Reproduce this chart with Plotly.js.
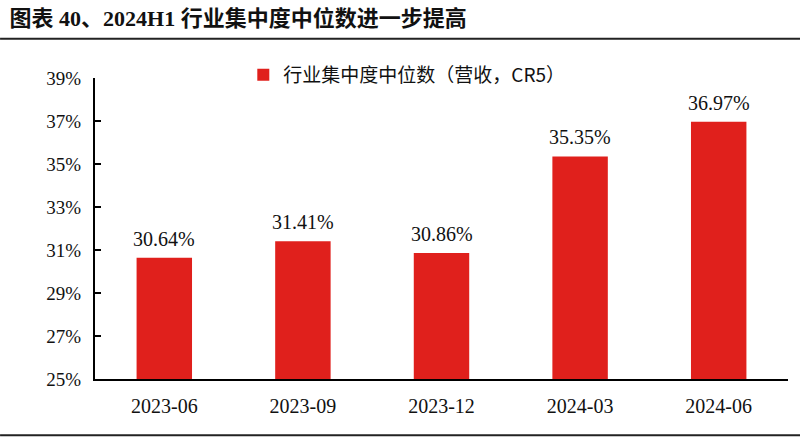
<!DOCTYPE html>
<html>
<head>
<meta charset="utf-8">
<script src="https://cdn.plot.ly/plotly-3.0.1.min.js"></script>
<style>
  body { margin: 0; background: #fff; }
  #chart { width: 800px; height: 440px; }
</style>
</head>
<body>
<div id="chart"></div>
<script>
// Data
var periods = ['2023-06', '2023-09', '2023-12', '2024-03', '2024-06'];
var medianCR5 = [30.64, 31.41, 30.86, 35.35, 36.97];
var yTicks = [25, 27, 29, 31, 33, 35, 37, 39];
var seriesName = '行业集中度中位数（营收，CR5）';
var chartTitle = '图表 40、2024H1 行业集中度中位数进一步提高';

var latinFont = 'Liberation Serif, Times New Roman, Noto Sans CJK SC, serif';

var bars = {
  x: periods,
  y: medianCR5,
  type: 'bar',
  name: seriesName,
  marker: { color: '#E0201C' },
  hoverinfo: 'skip'
};

// value labels sitting a little above each bar
var valueLabels = periods.map(function (p, i) {
  return {
    x: p, y: medianCR5[i], xref: 'x', yref: 'y',
    text: medianCR5[i].toFixed(2) + '%',
    showarrow: false,
    yanchor: 'bottom',
    yshift: 6,
    font: { family: latinFont, size: 20, color: '#111' }
  };
});

var layout = {
  width: 800,
  height: 440,
  margin: { l: 95, r: 12, t: 78, b: 61 },
  paper_bgcolor: '#fff',
  plot_bgcolor: '#fff',
  font: { family: latinFont },
  showlegend: true,
  bargap: 0.6,
  title: {
    text: '<b>' + chartTitle + '</b>',
    font: { family: latinFont, size: 22, color: '#111' },
    x: 0.012, xanchor: 'left', xref: 'container',
    y: 0.958, yanchor: 'middle', yref: 'container'
  },
  legend: {
    orientation: 'h',
    x: 0.214, xanchor: 'left',
    y: 1.01, yanchor: 'middle',
    font: { family: 'Noto Sans CJK SC, sans-serif', size: 19, color: '#111' },
    itemwidth: 30
  },
  xaxis: {
    type: 'category',
    showline: true,
    linecolor: '#000',
    linewidth: 2,
    ticks: '',
    ticklabelstandoff: 8,
    tickfont: { family: latinFont, size: 20, color: '#111' },
    showgrid: false,
    zeroline: false,
    fixedrange: true
  },
  yaxis: {
    range: [25, 39],
    tickvals: yTicks,
    ticktext: yTicks.map(function (v) { return v + '%'; }),
    showline: true,
    linecolor: '#000',
    linewidth: 2,
    ticks: 'inside',
    ticklen: 6,
    tickwidth: 2,
    tickcolor: '#000',
    ticklabelstandoff: 8,
    tickfont: { family: latinFont, size: 19, color: '#111' },
    showgrid: false,
    zeroline: false,
    fixedrange: true
  },
  annotations: valueLabels,
  shapes: [
    // rule under the title
    { type: 'line', xref: 'paper', yref: 'paper', x0: -0.137, x1: 1.02, y0: 1.13, y1: 1.13,
      line: { color: '#222', width: 2 } },
    // rule at the bottom
    { type: 'line', xref: 'paper', yref: 'paper', x0: -0.137, x1: 1.02, y0: -0.187, y1: -0.187,
      line: { color: '#222', width: 2 } }
  ]
};

Plotly.newPlot('chart', [bars], layout, { displayModeBar: false, staticPlot: true });
</script>
</body>
</html>
